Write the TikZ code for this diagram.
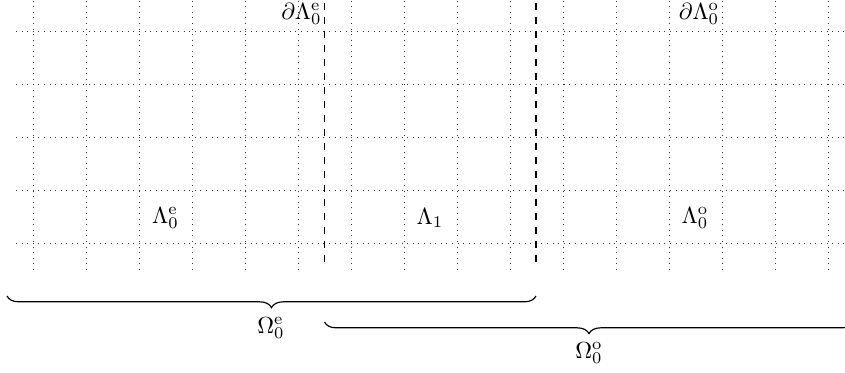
\documentclass[tikz,border=0pt]{standalone}
\usetikzlibrary{decorations.pathreplacing}
\begin{document}
\begin{tikzpicture}[x=0.015094cm,y=-0.015094cm,
  gridline/.style={dotted, black!80, line width=0.4pt},
  sepline/.style={dashed, line width=0.5pt},
  brc/.style={decorate, decoration={brace, mirror, amplitude=5pt}, line width=0.5pt},
  lab/.style={inner sep=0pt}]
\useasboundingbox (0,0) rectangle (845,372);
\clip (0,0) rectangle (845,372);
\foreach \y in {31,84,137,190,243} \draw[gridline] (16,\y) -- (870,\y);
\foreach \k in {0,...,15} \draw[gridline] ({33+53*\k},-5) -- ({33+53*\k},270);
\coordinate (d1t) at (324.5,3);
\coordinate (d1b) at (324.5,268);
\coordinate (d2t) at (536,3);
\coordinate (d2b) at (536,268);
\draw[sepline] (d1t) -- (d1b);
\draw[sepline] (d2t) -- (d2b);
\node[lab, anchor=east] (bde) at (322,14) {$\partial\Lambda_0^{\mathrm{e}}$};
\node[lab] (bdo) at (699,14) {$\partial\Lambda_0^{\mathrm{o}}$};
\node[lab] (le) at (165.5,218) {$\Lambda_0^{\mathrm{e}}$};
\node[lab] (l1) at (430,218) {$\Lambda_1$};
\node[lab] (lo) at (695,218) {$\Lambda_0^{\mathrm{o}}$};
\coordinate (b1a) at (7,296);
\coordinate (b1b) at (536,296);
\coordinate (b2a) at (324.5,322);
\coordinate (b2b) at (853.5,322);
\draw[brc] (b1a) -- (b1b);
\draw[brc] (b2a) -- (b2b);
\node[lab] (oe) at (271,328) {$\Omega_0^{\mathrm{e}}$};
\node[lab] (oo) at (589,353) {$\Omega_0^{\mathrm{o}}$};
\end{tikzpicture}
\end{document}
